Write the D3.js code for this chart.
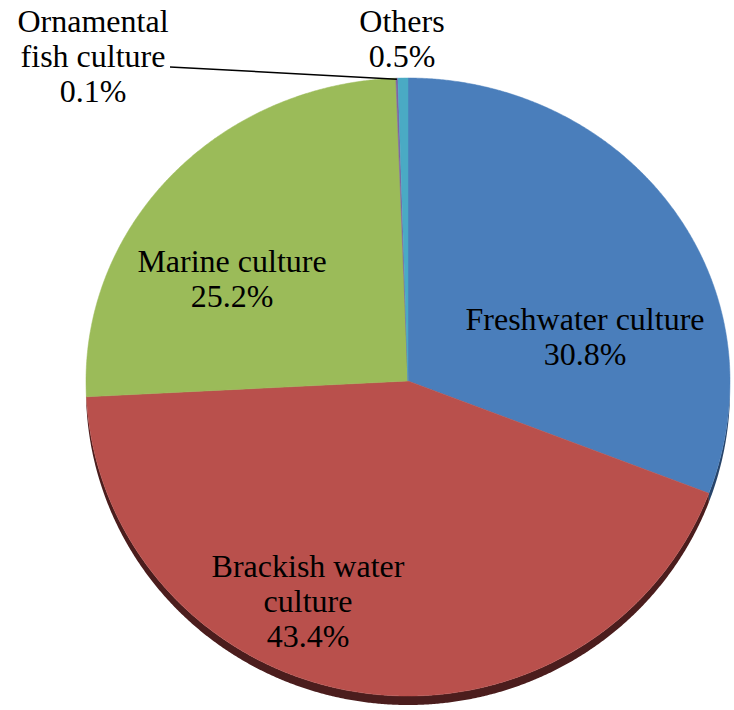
<!DOCTYPE html>
<html>
<head>
<meta charset="utf-8">
<script src="https://cdn.jsdelivr.net/npm/d3@7"></script>
<style>
  html, body { margin: 0; padding: 0; background: #ffffff; }
  svg { display: block; }
</style>
</head>
<body>
<svg id="chart" width="734" height="710" font-family="Liberation Serif"></svg>
<script>
// Aquaculture production share by culture type (%)
const categories = ["Freshwater culture", "Brackish water culture", "Marine culture", "Ornamental fish culture", "Others"];
const shares = [30.8, 43.4, 25.2, 0.1, 0.5];
const shareLabels = ["30.8%", "43.4%", "25.2%", "0.1%", "0.5%"];

// Label text lines per slice (name lines followed by the value line)
const labelLines = [
  ["Freshwater culture"],
  ["Brackish water", "culture"],
  ["Marine culture"],
  ["Ornamental", "fish culture"],
  ["Others"]
];

// Styling
const topColors  = ["#4a7ebb", "#b9504c", "#9bbb59", "#7f63a1", "#4aaac4"];
const sideColors = ["#27446a", "#4b1d1d", "#56692e", "#44335a", "#276273"];
const labelAnchor = [[585, 330], [308, 577], [232, 272], [93, 32], [402, 32]];

const svg = d3.select("#chart");
const cx = 408, cy = 381, rx = 322, ryTop = 303, ryBot = 315, depth = 9;
const fontSize = 32, lineH = 35;

// Tilted disc: upper half slightly flatter than the nearer lower half
function rimPoint(a, dy = 0) {
  const c = Math.cos(a);
  const ry = c > 0 ? ryTop : ryBot;
  return [cx + rx * Math.sin(a), cy - ry * c + dy];
}
function arcPoints(a0, a1, dy = 0) {
  const n = Math.max(2, Math.ceil(Math.abs(a1 - a0) / 0.005));
  return d3.range(n + 1).map(i => rimPoint(a0 + (a1 - a0) * i / n, dy));
}

const pie = d3.pie().sort(null).value(d => d)(shares);
const pathLine = d3.line();

// Side walls (front half only: angles between 90° and 270°)
const gSide = svg.append("g");
pie.forEach((p, i) => {
  const a0 = Math.max(p.startAngle, Math.PI / 2);
  const a1 = Math.min(p.endAngle, 3 * Math.PI / 2);
  if (a1 <= a0) return;
  const upper = arcPoints(a0, a1, 0);
  const lower = arcPoints(a1, a0, depth);
  gSide.append("path")
    .attr("d", pathLine(upper.concat(lower)) + "Z")
    .attr("fill", sideColors[i]);
});

// Top faces
const gTop = svg.append("g");
pie.forEach((p, i) => {
  const pts = [[cx, cy]].concat(arcPoints(p.startAngle, p.endAngle));
  gTop.append("path")
    .attr("d", pathLine(pts) + "Z")
    .attr("fill", topColors[i])
    .attr("stroke", topColors[i])
    .attr("stroke-width", 0.5);
});

// Leader line for the ornamental slice
const orn = pie[3];
const ornTip = rimPoint((orn.startAngle + orn.endAngle) / 2);
svg.append("line")
  .attr("x1", 170).attr("y1", 67)
  .attr("x2", ornTip[0]).attr("y2", ornTip[1] + 1)
  .attr("stroke", "#000").attr("stroke-width", 1.5);

// Labels
categories.forEach((c, i) => {
  const lines = labelLines[i].concat([shareLabels[i]]);
  const [lx, ly] = labelAnchor[i];
  const t = svg.append("text")
    .attr("font-family", "Liberation Serif")
    .attr("font-size", fontSize)
    .attr("text-anchor", "middle")
    .attr("fill", "#000");
  lines.forEach((s, k) => {
    t.append("tspan").attr("x", lx).attr("y", ly + k * lineH).text(s);
  });
});
</script>
</body>
</html>
